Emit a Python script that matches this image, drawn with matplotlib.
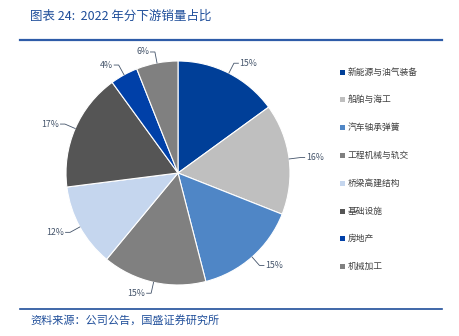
import numpy as np
import matplotlib.pyplot as plt
from matplotlib.patches import Rectangle
from matplotlib.lines import Line2D

plt.rcParams['font.family'] = ['Noto Sans CJK SC', 'DejaVu Sans']

categories = ["新能源与油气装备", "船舶与海工", "汽车轴承弹簧", "工程机械与轨交",
              "桥梁高建结构", "基础设施", "房地产", "机械加工"]
shares = [15, 16, 15, 15, 12, 17, 4, 6]
colors = ["#003F98", "#BFBFBF", "#4F86C6", "#808080", "#C5D6EE", "#555555", "#0040A8", "#808080"]

W, H = 460, 336
fig = plt.figure(figsize=(W / 100, H / 100), dpi=100)

# pie centered at (178,173) px, radius 112 px
r_px = 112
cx, cy = 178, 173
half = 1.5 * r_px
ax = fig.add_axes([(cx - half) / W, (H - cy - half) / H, 2 * half / W, 2 * half / H])

wedges, _ = ax.pie(shares, colors=colors, startangle=90, counterclock=False,
                   wedgeprops=dict(edgecolor='white', linewidth=0.8))
ax.set_xlim(-1.5, 1.5)
ax.set_ylim(-1.5, 1.5)
ax.set_aspect('equal')
ax.axis('off')

lab_col = "#44546A"
for w, s in zip(wedges, shares):
    ang = np.deg2rad((w.theta1 + w.theta2) / 2)
    x0, y0 = np.cos(ang), np.sin(ang)
    x1, y1 = 1.1 * x0, 1.1 * y0
    side = 1 if x0 >= 0 else -1
    x2 = x1 + side * 0.04
    ax.plot([x0, x1, x2], [y0, y1, y1], color=lab_col, lw=0.6)
    ax.text(x2 + side * 0.01, y1, "%d%%" % s, ha='left' if side > 0 else 'right',
            va='center', fontsize=6.3, color=lab_col)

# legend
for i, (c, name) in enumerate(zip(colors, categories)):
    y = 72 + i * 27.8
    fig.add_artist(Rectangle(((340) / W, (H - y - 2.5) / H), 5 / W, 5 / H,
                             transform=fig.transFigure, facecolor=c, edgecolor='none'))
    fig.text(348 / W, 1 - y / H, name, fontsize=6.3, color="#404040", va='center', ha='left')

# title and rules
blue = "#1F4E9A"
fig.text(30 / W, 1 - 16 / H, "图表 24:  2022 年分下游销量占比", fontsize=9, color=blue,
         va='center', ha='left', style='italic')
fig.add_artist(Line2D([20 / W, 442 / W], [1 - 40 / H, 1 - 40 / H], color="#2E5CA8", lw=1.6,
                      transform=fig.transFigure))
fig.add_artist(Line2D([20 / W, 442 / W], [1 - 309 / H, 1 - 309 / H], color="#1F4E9A", lw=1.2,
                      transform=fig.transFigure))
fig.text(30 / W, 1 - 320 / H, "资料来源：公司公告，国盛证券研究所", fontsize=8, color=blue,
         va='center', ha='left', style='italic')

fig.savefig("out.png", dpi=100)
